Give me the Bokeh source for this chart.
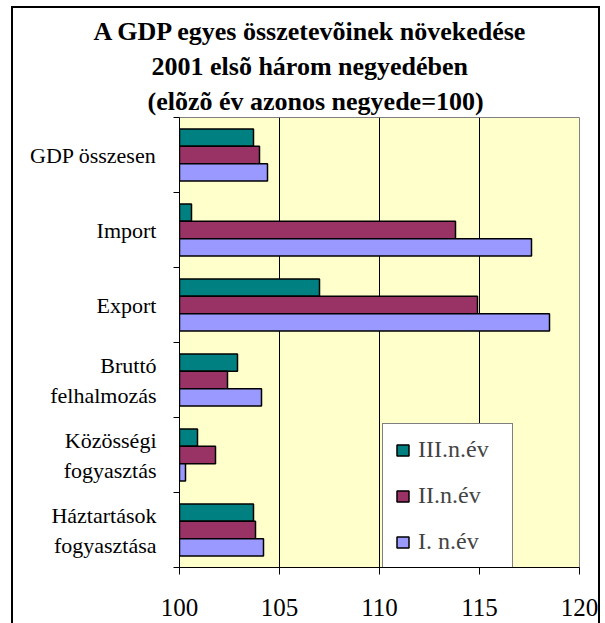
from bokeh.plotting import figure
from bokeh.models import Range1d, FixedTicker, Legend, LegendItem, Title
from bokeh.embed import file_html
from bokeh.resources import INLINE

categories = ["GDP összesen", "Import", "Export", "Bruttó\nfelhalmozás",
              "Közösségi\nfogyasztás", "Háztartások\nfogyasztása"]
q3 = [103.7, 100.6, 107.0, 102.9, 100.9, 103.7]
q2 = [104.0, 113.8, 114.9, 102.4, 101.8, 103.8]
q1 = [104.4, 117.6, 118.5, 104.1, 100.3, 104.2]
series_names = ["III.n.év", "II.n.év", "I. n.év"]
series_values = [q3, q2, q1]
colors = ["#008080", "#993366", "#9999FF"]
x_ticks = [100, 105, 110, 115, 120]
title_lines = ["A GDP egyes összetevõinek növekedése",
               "2001 elsõ három negyedében",
               "(elõzõ év azonos negyede=100)"]
title_offsets = [-86, -28, -32]

FONT = "Liberation Serif"
n = len(categories)
centers = [n - i - 0.5 for i in range(n)]
bar_h = 0.231
offsets = [bar_h, 0.0, -bar_h]

p = figure(width=589, height=617, output_backend="svg", toolbar_location=None,
           x_range=Range1d(x_ticks[0], x_ticks[-1]), y_range=Range1d(0, n),
           min_border_left=168, min_border_right=21, min_border_top=111,
           min_border_bottom=56, margin=(6, 0, 0, 11))
# outer chart border (left, top, right) painted as the element background
p.styles = {"background":
            "linear-gradient(black, black) left top / 100% 2px no-repeat, "
            "linear-gradient(black, black) left top / 2px 100% no-repeat, "
            "linear-gradient(black, black) right top / 2px 100% no-repeat, white"}
p.background_fill_color = "#FFFFCC"
p.border_fill_color = "white"
p.border_fill_alpha = 0.0
p.outline_line_color = "#808080"
p.outline_line_width = 1

renderers = []
for vals, off, col in zip(series_values, offsets, colors):
    ys = [c + off for c in centers]
    r = p.hbar(y=ys, left=x_ticks[0], right=vals, height=bar_h,
               fill_color=col, line_color="black", line_width=1.5)
    renderers.append(r)

# grid
p.ygrid.grid_line_color = None
p.xgrid.ticker = FixedTicker(ticks=x_ticks)
p.xgrid.grid_line_color = "black"
p.xgrid.grid_line_width = 1

# x axis
xa = p.xaxis[0]
xa.ticker = FixedTicker(ticks=x_ticks)
xa.axis_line_color = "black"
xa.major_tick_line_color = "black"
xa.major_tick_out = 7
xa.major_tick_in = 0
xa.minor_tick_line_color = None
xa.major_label_text_font = FONT
xa.major_label_text_font_size = "25px"
xa.major_label_text_color = "black"
xa.major_label_standoff = 24

# y axis
ya = p.yaxis[0]
ya.ticker = FixedTicker(ticks=centers, minor_ticks=list(range(n + 1)))
ya.major_label_overrides = {c: lab for c, lab in zip(centers, categories)}
ya.axis_line_color = "black"
ya.major_tick_line_color = None
ya.major_tick_out = 0
ya.major_tick_in = 0
ya.minor_tick_line_color = "black"
ya.minor_tick_out = 6
ya.minor_tick_in = 0
ya.major_label_text_font = FONT
ya.major_label_text_font_size = "22px"
ya.major_label_text_color = "black"
ya.major_label_standoff = 17

# legend
items = [LegendItem(label=nm, renderers=[r]) for nm, r in zip(series_names, renderers)]
legend = Legend(items=items, location=(203, -1), orientation="vertical",
                label_text_font=FONT, label_text_font_size="24px",
                glyph_width=15, glyph_height=14, label_height=24, label_width=82,
                label_standoff=8, spacing=19, padding=12, margin=0,
                border_line_color="black", border_line_width=1,
                background_fill_color="white", background_fill_alpha=1.0)
p.add_layout(legend, "center")

# title: three lines, the first added sits closest to the chart
for txt, off in reversed(list(zip(title_lines, title_offsets))):
    p.add_layout(Title(text=txt, align="left", offset=off,
                       vertical_align="bottom", standoff=4,
                       text_font=FONT, text_font_size="26px",
                       text_font_style="bold", text_color="black"), "above")

open("out.html", "w").write(file_html(p, INLINE))
